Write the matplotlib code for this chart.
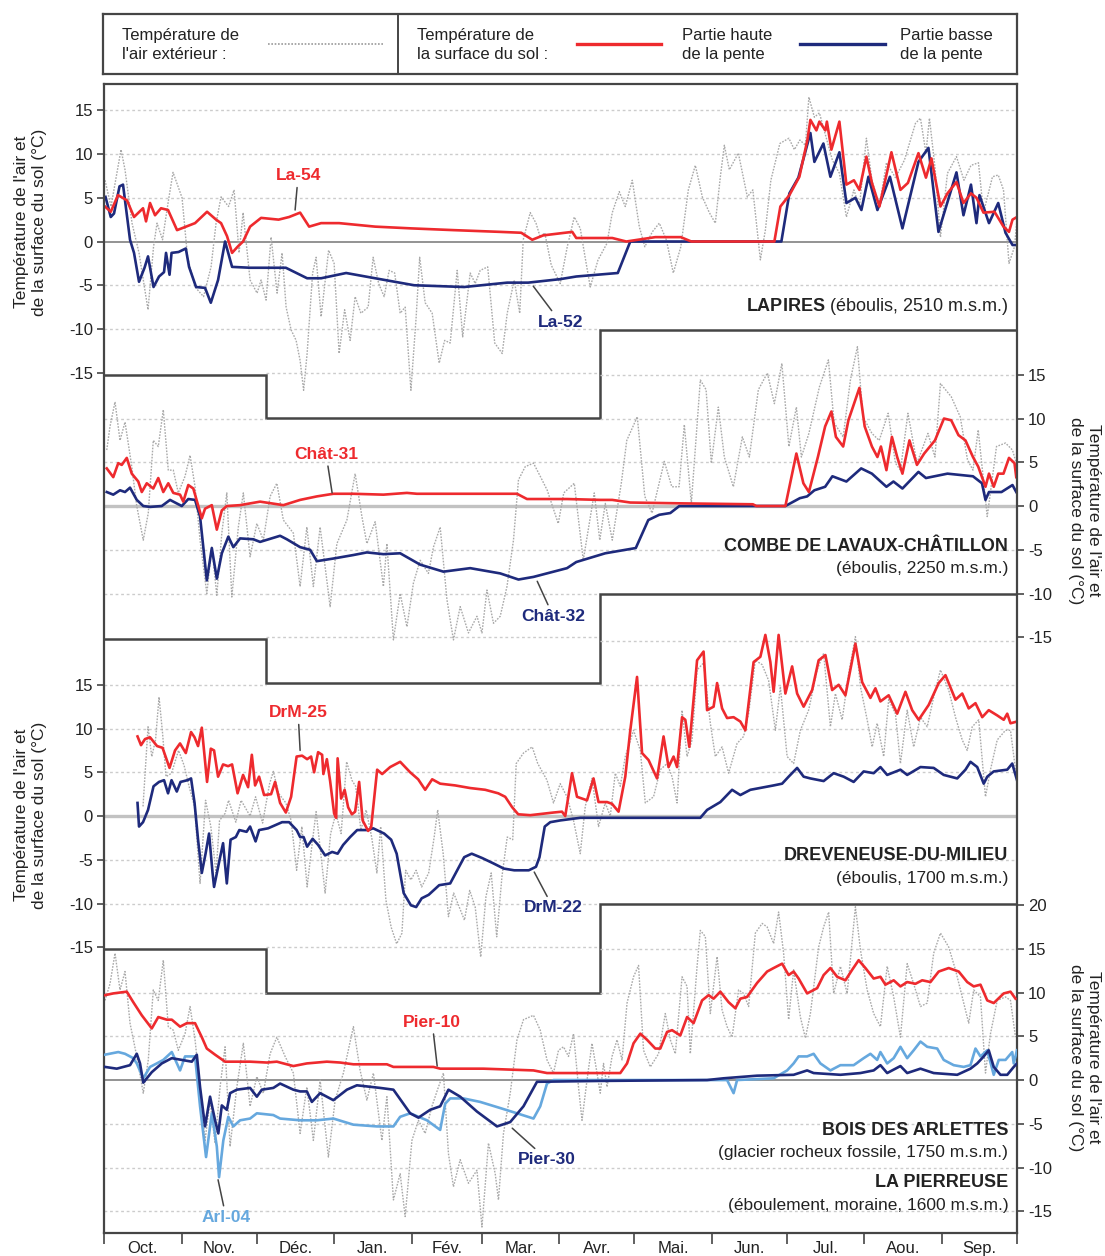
import numpy as np
import matplotlib
matplotlib.use("Agg")
import matplotlib.pyplot as plt
from matplotlib.transforms import blended_transform_factory

plt.rcParams['font.family'] = ['Liberation Sans', 'DejaVu Sans']
plt.rcParams['mathtext.fontset'] = 'custom'
plt.rcParams['mathtext.bf'] = 'Liberation Sans:bold'
plt.rcParams['mathtext.rm'] = 'Liberation Sans'
plt.rcParams['axes.unicode_minus'] = False

# x = days since 1 October (hydrological year)
month_starts = [0, 31, 61, 92, 123, 151, 182, 212, 243, 273, 304, 335, 365]
month_labels = ['Oct.', 'Nov.', 'Déc.', 'Jan.', 'Fév.', 'Mar.', 'Avr.',
                'Mai.', 'Jun.', 'Jul.', 'Aou.', 'Sep.']

# ---- LAPIRES ----
lapires_air = [(0.4, 7.0), (2.8, 4.0), (5.6, 8.5), (6.8, 10.5), (8.4, 8.2), (11.2, 2.1), (14, -1.3), (17.6, -7.8),
               (19.8, -0.6), (21.2, 2.1), (23.4, 0.2), (25.6, 4.4), (27.6, 7.9), (31.2, 5.0), (33.4, -1.8),
               (36.4, -5.2), (39.8, -6.3), (42.8, -2.9), (44.8, 2.1), (46.8, 5.1), (49.8, 4.0), (52, 5.9),
               (54, -1.3), (55.6, 3.3), (58.4, -4.4), (61.2, -5.9), (62.8, -4.4), (64.8, -6.7), (66.8, 0.5),
               (69.2, -5.9), (71.2, -1.3), (72.8, -7.5), (74.8, -10.1), (76.8, -11.3), (78.4, -13.6),
               (79.8, -17.0), (81.2, -12.8), (83.4, -3.6), (84.8, -1.8), (86.8, -8.6), (89.8, -1.0), (92, -2.5),
               (94, -12.8), (96.2, -7.8), (98.4, -11.3), (100.4, -6.3), (102.7, -8.2), (105.6, -7.5),
               (107.6, -1.8), (109.8, -4.8), (112, -6.3), (114, -3.3), (116.2, -3.6), (118.4, -8.2),
               (120.4, -7.5), (122.7, -17.0), (124.8, -8.6), (126.2, -1.8), (128.4, -7.0), (131.2, -8.2),
               (134, -13.9), (136.2, -11.3), (138.4, -11.6), (141.2, -3.3), (143.4, -10.9), (146.4, -3.6),
               (148.4, -4.8), (150.4, -3.3), (153.4, -2.9), (156.2, -11.6), (159.2, -12.8), (161.2, -8.2),
               (164, -4.4), (166.2, -8.2), (167.6, 0.2), (170.4, 3.3), (172.7, 2.1), (174.4, 0.5), (176.2, 1.0),
               (178.8, -2.7), (182.4, -4.8), (185.2, -0.6), (188, 2.8), (190.4, 1.5), (192.4, -1.9),
               (194.4, -5.2), (197.5, -2.1), (201.1, -0.2), (203.2, 3.3), (206, 5.7), (208.4, 4.0), (211.2, 7.0),
               (214, 1.7), (216.2, -0.6), (219.2, 1.1), (222, 2.1), (224.8, 0.2), (227.6, -3.6), (230.6, -0.6),
               (233.6, 5.9), (236.4, 8.7), (239.2, 5.1), (242, 3.3), (244.4, 2.1), (246.4, 7.4), (248, 11.0),
               (250, 8.2), (253.6, 10.1), (257.2, 5.1), (259.4, 5.9), (262.4, -2.1), (264.4, 1.3), (266.6, 7.0),
               (270.2, 11.2), (273.8, 11.8), (276, 10.5), (278.2, 11.6), (280.4, 11.0), (281.8, 16.5),
               (284, 14.2), (286, 14.7), (289, 11.6), (291.2, 9.3), (294, 7.8), (296.8, 2.8), (299.8, 5.9),
               (302, 4.0), (304.8, 11.8), (307, 7.0), (310, 4.0), (312.8, 9.0), (316.4, 7.3), (320, 9.3),
               (324.4, 13.5), (326.4, 14.1), (328.6, 10.1), (330, 14.1), (332.2, 8.5), (334.4, 0.5), (337.2, 7.8),
               (340.8, 9.7), (343.8, 7.0), (346.6, 8.7), (349.6, 9.0), (351.6, 3.3), (355.2, 7.4), (357.5, 7.6),
               (359.6, 5.9), (361.8, -2.5), (364, -0.6), (365, 2.5)]
la54 = [(0.4, 4.0), (2.7, 3.4), (5.6, 5.3), (9.2, 4.7), (12, 2.8), (15.6, 3.8), (16.8, 2.3), (18.4, 4.4),
        (20.4, 3.0), (22.8, 3.8), (25.6, 3.6), (29.2, 1.3), (32.8, 1.7), (36.4, 2.1), (41.2, 3.4), (44.8, 2.5),
        (46.8, 2.1), (49.2, 0.6), (51.2, -1.3), (53.4, -0.6), (55.6, 0), (58.4, 1.7), (62.8, 2.7), (69.8, 2.5),
        (74, 2.8), (78.4, 3.3), (82, 1.7), (86.8, 2.1), (94, 2.1), (108.4, 1.7), (122.8, 1.5), (139.8, 1.3),
        (158.4, 1.1), (166.8, 1.0), (171.2, 0.2), (175.6, 0.7), (187.2, 1.1), (188.8, 0.4), (203.2, 0.4),
        (208.8, 0), (220.4, 0.5), (230.6, 0.5), (234.8, 0), (268, 0), (270.4, 4.0), (274, 5.3), (278, 7.4),
        (281.2, 11.6), (282.4, 13.9), (284.8, 12.7), (286, 13.7), (288.4, 12.7), (289, 13.7), (290.8, 10.5),
        (294, 13.7), (296.8, 6.5), (299.8, 7.0), (302, 5.9), (304.8, 9.7), (307, 6.7), (310, 4.0),
        (314.8, 10.2), (318.4, 5.9), (321.4, 6.7), (325.6, 10.1), (328.6, 7.3), (330.8, 9.5), (334.4, 4.0),
        (337.2, 5.5), (340.8, 6.8), (343.6, 4.4), (346.6, 5.5), (348.8, 5.0), (351.6, 3.3), (356, 3.4),
        (359.6, 1.7), (361.8, 1.1), (363.2, 2.5), (365, 2.8)]
la52 = [(0.6, 5.1), (2.7, 2.8), (4, 3.2), (6.2, 6.3), (7.6, 6.5), (10.4, 0.2), (12, -1.3), (14, -4.6),
        (16.2, -3.0), (17.6, -1.7), (19.8, -5.2), (22, -4.0), (24, -3.5), (24.8, -1.3), (26.2, -3.8), (27, -1.3),
        (29.8, -1.2), (32.7, -0.8), (34, -2.9), (36.8, -5.2), (40.4, -5.3), (42.7, -7.0), (45.6, -4.4),
        (48.4, 0), (51.2, -2.9), (58.4, -3.0), (72.7, -3.0), (81.2, -4.2), (86.8, -4.2), (96.8, -3.6),
        (108.4, -4.2), (124, -5.0), (144, -5.2), (161.2, -4.7), (169.6, -4.7), (182.4, -4.3), (188.8, -4.0),
        (205.4, -3.6), (210.4, 0), (270.8, 0), (274, 5.5), (277.6, 7.3), (282.4, 12.4), (284, 9.1),
        (287.6, 11.2), (290.4, 7.4), (294, 10.2), (296.8, 4.4), (300.4, 5.0), (302.8, 3.6), (305.6, 7.4),
        (309.2, 3.6), (314.2, 7.4), (319.2, 1.5), (325.6, 9.1), (329.6, 10.7), (333.6, 1.1), (340.8, 7.9),
        (343.6, 3.0), (346.6, 6.5), (348.8, 2.1), (350, 5.3), (353.8, 2.1), (357.5, 4.4), (360.4, 1.0),
        (363.2, -0.4), (365, -0.4)]

# ---- COMBE DE LAVAUX-CHATILLON ----
combe_air = [(1.1, 6.4), (2.4, 9.1), (4.4, 11.9), (6.4, 7.5), (8.4, 9.6), (11.1, 4.5), (13.1, 0), (15.7, -3.9),
             (17.7, -0.8), (19.7, 7.5), (21.7, 6.8), (23.7, 11.0), (25.7, 4.1), (27.7, 4.1), (29.7, 1.5),
             (32.4, 3.4), (34.4, 5.8), (36.4, 2.2), (38.4, -3.9), (41.1, -10.0), (43.1, -4.7), (45.1, -10.2),
             (47.1, -3.1), (49.1, 1.5), (51.1, -10.4), (53.7, -2.4), (55.7, 1.5), (58.4, -5.8), (61.1, -2.0),
             (63.7, -3.9), (66.4, 1.1), (69.1, 2.6), (71.7, -1.6), (75.7, -3.1), (78.4, -9.2), (81.1, -2.4),
             (83.7, -9.2), (86.4, -2.4), (90.4, -11.5), (93.1, -4.3), (97.1, -1.6), (100.4, 3.7), (103.1, -1.2),
             (105.1, -4.3), (108.4, -1.8), (111.7, -9.2), (113.1, -4.3), (115.7, -15.3), (118.4, -10.0),
             (121.1, -13.8), (123.7, -8.8), (126.4, -6.2), (129.7, -7.7), (131.7, -4.7), (134.4, -2.4),
             (137.1, -10.7), (139.7, -15.3), (142.4, -11.5), (145.7, -14.5), (149.1, -12.6), (151.1, -14.5),
             (153.1, -9.6), (155.7, -13.4), (158.4, -12.6), (161.1, -9.2), (163.7, -3.9), (165.7, 3.0),
             (168.4, 4.5), (171.7, 4.9), (174.4, 3.4), (177.2, 1.8), (181.6, -2.0), (183.8, 1.5), (188, 2.6),
             (191.6, -6.2), (196, 1.5), (198.2, -3.9), (200.4, 0.3), (203.2, -3.9), (206.8, 2.6), (209, 7.5),
             (213.2, 10.2), (216.2, 1.1), (219.1, -0.8), (224, 5.1), (227, 2.2), (229.9, 2.2), (232, 9.3),
             (234.8, 0.3), (238.4, 14.4), (240.7, 13.3), (242.8, 4.9), (245.6, 11.3), (248, 5.6), (251.6, 2.2),
             (255.2, 7.9), (258, 5.6), (261.6, 13.3), (265.2, 15.2), (268, 11.7), (271, 16.3), (273.8, 6.8),
             (276.8, 11.3), (278.8, 5.6), (281.8, 8.3), (286, 13.6), (289.6, 16.7), (291.9, 9.5), (295.5, 7.9),
             (298.4, 14.4), (301.2, 18.2), (303.4, 10.2), (307, 8.3), (309.9, 7.5), (313.5, 10.6), (316.4, 4.9),
             (318.4, 4.1), (321.4, 10.6), (325, 4.9), (329.4, 8.3), (332.2, 5.6), (334.4, 14.0), (338.7, 12.5),
             (342.3, 10.2), (345.2, 5.3), (347.4, 4.1), (349.5, 8.7), (353.1, -1.2), (356.8, 6.8), (360.4, 7.2),
             (363.2, 6.4), (364.7, 4.9)]
chat31 = [(1.1, 4.3), (3.7, 3.3), (5.7, 4.9), (7.1, 4.7), (9.1, 5.5), (11.1, 3.7), (13.7, 2.8), (15.1, 1.6),
          (17.1, 2.6), (19.7, 2.0), (21.7, 3.2), (23.7, 1.6), (25.7, 2.6), (27.7, 1.5), (30.4, 1.3), (31.7, 0.5),
          (33.7, 2.4), (35.7, 2.0), (37.7, 0), (39.1, -1.4), (40.4, -0.3), (43.1, 0.1), (45.1, -2.7),
          (47.1, -0.5), (49.1, 0), (54.4, 0.1), (62.4, 0.5), (71.7, 0.1), (78.4, 0.7), (85.1, 1.1), (91.7, 1.4),
          (99.7, 1.4), (111.7, 1.3), (121.1, 1.5), (125.1, 1.4), (165.1, 1.4), (169.1, 0.8), (185.1, 0.8),
          (198.4, 0.7), (203.2, 0.7), (210.4, 0.4), (232, 0.3), (259.4, 0.2), (260.8, 0), (272.4, 0),
          (274.6, 3.0), (276.8, 6.0), (279.6, 2.6), (281.8, 1.6), (285.4, 5.6), (288.3, 9.1), (290.8, 10.8),
          (292.6, 7.9), (295.5, 6.8), (297.6, 9.8), (302, 13.5), (304.1, 9.1), (307, 6.8), (309.2, 5.6),
          (310.6, 6.8), (312.8, 4.1), (315, 7.9), (317.1, 5.6), (319.2, 3.7), (322, 7.5), (325, 4.7),
          (327.9, 6.0), (332.2, 7.5), (335.8, 10.0), (338.7, 9.8), (341.6, 8.1), (344.4, 7.5), (347.4, 5.6),
          (349.5, 4.5), (352.4, 2.2), (353.8, 3.7), (355.7, 2.2), (357.5, 3.7), (359.6, 3.7), (361.8, 5.5),
          (364, 4.9), (364.7, 3.3)]
chat32 = [(1.1, 1.6), (3.7, 1.3), (6.4, 1.8), (8.4, 1.6), (10.4, 2.1), (13.1, 0.7), (15.7, 0), (18.4, -0.1),
          (23.1, 0), (26.4, 0.7), (28.4, 0.4), (31.1, 0), (33.7, 0.8), (36.4, 0.7), (38.4, -1.2), (41.1, -8.5),
          (43.1, -4.8), (45.1, -8.3), (47.1, -5.4), (49.7, -3.5), (51.7, -4.7), (54.4, -3.7), (59.7, -3.8),
          (62.4, -4.1), (70.4, -3.4), (73.1, -3.8), (78.4, -4.7), (82.4, -5.0), (85.1, -6.3), (91.7, -6.0),
          (99.7, -5.6), (105.1, -5.3), (111.7, -5.5), (118.4, -5.4), (126.4, -6.7), (135.7, -7.5),
          (146.4, -7.1), (158.4, -7.7), (165.7, -8.4), (171.7, -8.1), (185.1, -7.1), (188.8, -6.4),
          (200.4, -5.4), (212.6, -4.8), (217.6, -1.6), (222, -1.0), (226.4, -0.8), (230, 0), (272.4, 0),
          (278.2, 0.9), (281.1, 1.1), (284, 1.8), (288.3, 2.2), (291.2, 3.4), (296.8, 2.8), (302.7, 4.3),
          (307, 3.7), (312.8, 2.2), (315.6, 2.8), (319.2, 2.0), (325.6, 3.9), (328.6, 3.2), (337.2, 3.7),
          (347.4, 3.4), (351, 2.6), (352.4, 0.7), (353.8, 1.6), (358.8, 1.6), (363.2, 2.4), (364.7, 1.6)]

# ---- DREVENEUSE-DU-MILIEU ----
drev_air = [(15.6, 1.1), (17.6, 10.2), (19.1, 6.8), (20.6, 8.7), (22, 13.6), (23.4, 9.5), (24.8, 4.5), (27, 4.9),
            (29.8, 7.5), (32, 5.8), (34, 3.4), (36.2, 1.1), (38.4, -7.7), (40.6, 1.8), (42.7, -1.2), (44.8, -6.5),
            (46.2, -0.5), (48.4, 0.3), (49.8, 1.8), (52.7, -0.7), (54.8, 1.8), (56.2, 1.1), (58.4, 0),
            (60.6, 2.2), (63.4, -0.8), (66.2, 3.7), (67.7, 5.1), (69.8, 2.6), (72.7, 1.5), (74.8, -0.5),
            (77, -6.2), (79.1, -1.2), (81.2, -8.1), (83.4, -2.7), (84.8, 0.5), (86.2, -3.1), (88.4, -8.8),
            (90.6, -2.0), (92.7, 0.3), (94.8, -2.0), (97, 6.2), (99.1, 4.1), (100.6, 3.4), (102.7, -1.6),
            (104.8, 0.7), (107, -2.4), (109.1, -6.5), (110.6, -1.2), (112.7, -9.6), (114.8, -12.7),
            (117, -14.6), (119.1, -13.4), (120.6, -6.2), (122.7, -7.3), (124.8, -6.2), (127, -8.1),
            (129.8, -6.5), (132, -2.4), (133.4, 0.7), (135.6, -4.3), (137.7, -11.5), (139.8, -8.8),
            (142, -10.4), (144.1, -11.9), (146.2, -8.5), (148.4, -10.4), (150.6, -16.1), (152.7, -9.2),
            (154.8, -6.5), (157, -13.8), (159.1, -6.9), (161.2, -2.4), (163.4, -2.7), (164.8, 6.0),
            (167.7, 7.2), (171.2, 7.9), (173.4, 6.0), (177.1, 4.1), (179.7, 1.5), (182.4, 3.7), (185.1, 2.2),
            (187.7, -0.5), (190.4, -4.3), (192.4, 1.1), (195.1, 4.3), (197.7, -1.2), (200.4, 1.5), (202.4, 0),
            (204.4, 4.9), (206.4, 3.4), (208.4, 6.8), (211.7, 9.8), (214.4, 7.5), (216.4, 1.5), (219.7, 2.2),
            (222.4, 5.3), (225.1, 6.0), (227.1, 4.5), (229.1, 1.5), (231.1, 12.1), (233.1, 6.8), (235.1, 8.7),
            (237.1, 16.7), (239.7, 17.5), (242.4, 10.6), (244.4, 6.8), (247.1, 7.9), (249.7, 4.9),
            (253.1, 8.3), (255.7, 9.1), (257.7, 11.7), (260.4, 17.8), (263.1, 17.3), (265.7, 15.5),
            (268.4, 9.8), (270.4, 14.8), (273.1, 6.8), (275.7, 6.0), (278.4, 9.8), (281.7, 12.1),
            (285.1, 16.7), (287.7, 18.6), (290.4, 10.2), (292.4, 14.0), (295.1, 11.0), (297.7, 16.3),
            (300.4, 20.5), (302.4, 14.8), (305.1, 11.0), (307.1, 7.9), (309.1, 10.6), (311.7, 6.8),
            (313.7, 13.3), (316.4, 11.7), (318.4, 6.0), (321.1, 12.1), (323.7, 7.9), (326.4, 11.3),
            (329.1, 10.2), (331.7, 13.6), (334.4, 16.7), (337.7, 14.4), (340.4, 11.3), (343.1, 8.7),
            (345.1, 7.5), (347.1, 10.2), (349.7, 11.0), (352.4, 2.2), (354.4, 5.3), (357.1, 8.7), (360.4, 9.8),
            (362.4, 9.8), (364.4, 5.3)]
drm25 = [(13.4, 9.1), (14.8, 8.1), (16.4, 8.8), (18.4, 9.0), (21.2, 8.0), (23.4, 7.8), (26.2, 5.5), (28.4, 7.5),
         (30.4, 8.3), (32.7, 7.2), (34.8, 9.6), (36.2, 9.0), (37.6, 8.0), (39.1, 10.1), (40.6, 5.6), (41.2, 3.9),
         (42.7, 7.7), (44, 7.5), (45.6, 4.5), (47.6, 5.9), (49.6, 5.7), (51.2, 5.9), (53.4, 2.6), (55.6, 4.7),
         (57.6, 3.3), (59.1, 7.0), (60.4, 3.5), (62, 4.5), (64, 2.4), (66.8, 2.5), (68.4, 3.9), (70.4, 1.5),
         (72.7, 0.4), (74.8, 2.2), (77, 6.8), (79.2, 6.9), (81.2, 6.5), (82.8, 6.8), (84, 5.0), (85.6, 7.3),
         (87.2, 7.0), (87.7, 4.8), (89.1, 6.5), (90.4, 4.0), (92, 0.3), (92.8, -0.2), (93.4, 6.6), (94.8, 2.0),
         (96.2, 3.0), (97.6, 1.0), (99.1, 0.2), (100.4, 0.5), (102, 3.9), (103.4, -0.5), (105.6, -1.7),
         (106.8, -1.3), (109.2, 5.3), (111.2, 4.8), (114.4, 5.6), (118.4, 6.2), (122.4, 5.0), (125.6, 4.2),
         (128.4, 3.0), (131.2, 4.2), (134.4, 3.7), (140.4, 3.5), (146.4, 3.2), (152.4, 3.0), (157.6, 2.6),
         (160.4, 2.2), (163.2, 1.0), (165.6, 0.2), (170.4, 0.1), (176.4, 0.3), (179.6, 0.4), (183.1, 0.5),
         (184.4, 0), (187.1, 4.9), (189.1, 2.2), (193.1, 1.8), (195.7, 4.3), (197.7, 1.6), (201.1, 1.6),
         (203.1, 1.4), (205.7, 0.5), (208.4, 4.5), (210.4, 9.8), (213.1, 15.9), (215.1, 7.2), (217.7, 6.4),
         (221.1, 4.3), (223.7, 9.1), (225.7, 5.6), (227.7, 6.8), (229.1, 5.6), (231.1, 11.3), (232.4, 11.0),
         (234, 7.9), (237.1, 17.8), (239.7, 18.8), (241.1, 12.1), (243.7, 12.5), (245.1, 15.2), (247.1, 12.3),
         (249.1, 11.2), (251.7, 11.3), (254.4, 10.8), (256.4, 9.8), (259.7, 17.6), (262.4, 18.2),
         (264.4, 20.7), (266.4, 17.6), (267.7, 14.2), (269.7, 20.7), (272.4, 14.0), (275.1, 17.1),
         (277.1, 14.0), (279.7, 12.5), (283.1, 14.4), (285.7, 17.8), (288.4, 18.4), (291.1, 14.4),
         (293.7, 15.0), (296.4, 13.8), (300.4, 19.7), (303.1, 15.3), (306.4, 13.5), (308.4, 14.6),
         (310.4, 13.1), (313.7, 13.8), (317.1, 11.7), (320.4, 14.2), (323.1, 12.1), (325.7, 11.0),
         (329.7, 12.7), (333.7, 15.2), (336.4, 16.1), (340.4, 13.3), (343.1, 14.0), (345.7, 12.3),
         (348.4, 12.9), (351.1, 11.3), (353.7, 12.1), (357.1, 11.5), (359.7, 11.0), (361.1, 11.7),
         (362.4, 10.6), (365, 10.8)]
drm22 = [(13.4, 1.5), (14, -1.2), (15.6, -0.7), (17.6, 0.7), (19.8, 3.4), (22, 3.9), (24, 4.1), (25.6, 2.6),
         (27, 4.1), (29.1, 2.8), (30.6, 3.9), (33.4, 4.1), (34.8, 4.3), (36.2, 1.5), (37.6, -2.7), (39.1, -6.5),
         (40.6, -4.3), (42, -2.0), (43.4, -6.5), (44, -8.1), (46.2, -5.0), (47.6, -3.1), (49.1, -7.7),
         (50.6, -2.7), (52.7, -2.4), (54.1, -1.6), (57, -1.8), (58.4, -1.2), (60.6, -2.9), (62, -1.6),
         (65.6, -1.4), (71.2, -0.7), (74, -0.7), (77, -1.6), (78.4, -2.4), (79.8, -2.4), (81.2, -3.5),
         (83.4, -2.6), (85.6, -3.3), (88.4, -4.5), (91.2, -4.1), (93.4, -4.3), (95.6, -3.3), (98.4, -2.4),
         (101.2, -1.6), (105.6, -1.6), (107.6, -1.4), (112, -2.0), (114.8, -2.7), (117, -4.3), (119.8, -8.8),
         (122.7, -10.2), (124.8, -10.4), (127, -9.4), (129.8, -9.0), (134, -7.9), (138.4, -7.7), (141.2, -6.2),
         (144, -4.7), (147, -4.3), (151.2, -4.8), (155.6, -5.4), (159.8, -6.0), (164, -6.2), (169.8, -6.2),
         (172.7, -5.8), (174.1, -4.7), (176.2, -1.2), (178.4, -0.7), (182.4, -0.5), (190.4, -0.2),
         (238.4, -0.2), (241.1, 0.7), (246.4, 1.6), (251.1, 3.0), (254.4, 2.4), (258.4, 3.0), (267.7, 3.5),
         (271.1, 3.7), (273.7, 4.5), (277.1, 5.5), (279.7, 4.5), (282.4, 4.3), (287.7, 4.0), (291.7, 4.9),
         (295.7, 4.5), (299.7, 3.9), (303.7, 5.1), (307.7, 4.9), (310.4, 5.6), (313.1, 4.7), (318.4, 5.3),
         (321.1, 4.7), (326.4, 5.6), (331.7, 5.5), (335.7, 4.7), (341.1, 4.3), (344.4, 5.3), (346.4, 6.2),
         (349.1, 5.6), (351.7, 3.7), (353.1, 4.5), (355.7, 5.1), (361.1, 5.3), (363.1, 6.0), (365, 4.1)]

# ---- BOIS DES ARLETTES / LA PIERREUSE ----
pier_air = [(0.4, 9.1), (2.4, 11.0), (4.4, 14.5), (6.4, 10.3), (8.4, 12.4), (10.4, 6.5), (13.1, 2.7), (15.7, -1.5),
            (17.7, 2.3), (19.7, 10.3), (21.7, 9.1), (23.7, 13.7), (25.7, 6.1), (27.7, 5.7), (29.7, 3.4),
            (32.4, 5.3), (34.4, 8.4), (36.4, 4.6), (38.4, -0.8), (40.4, -6.9), (42.4, -2.3), (44.4, -7.2),
            (46.4, -0.8), (48.4, 3.8), (50.4, -7.6), (53.1, -0.8), (55.7, 4.2), (58.4, -3.0), (61.1, 0.4),
            (63.7, -1.5), (66.4, 3.0), (69.1, 4.9), (72.4, 2.7), (75.7, 0.8), (78.4, -6.1), (81.1, -0.8),
            (83.7, -6.9), (86.4, 0), (89.7, -8.8), (92.4, -2.3), (95.7, 0.8), (99.7, 6.1), (102.4, 1.1),
            (105.1, -2.3), (107.7, 0.8), (111.1, -6.9), (113.1, -1.9), (115.7, -13.7), (118.4, -10.7),
            (120.4, -15.6), (123.1, -6.9), (125.7, -4.6), (128.4, -6.1), (131.1, -3.0), (133.7, -0.8),
            (135.7, 0.8), (137.7, -8.4), (139.7, -12.2), (142.4, -9.1), (145.7, -11.8), (149.1, -10.3),
            (151.1, -16.8), (153.7, -7.2), (156.4, -10.7), (157.7, -13.7), (159.7, -6.1), (162.4, -1.5),
            (165.1, 4.6), (167.7, 6.9), (171.7, 7.4), (174.4, 5.7), (177.1, 2.3), (179.7, 0.8), (181.7, 3.4),
            (183.7, 3.8), (185.7, 2.7), (187.7, 5.3), (189.7, -0.8), (191.1, -4.6), (193.1, 0), (195.1, 4.2),
            (197.1, 0.8), (198.4, -1.5), (199.7, 1.9), (201.1, -0.8), (203.1, 2.7), (205.1, 4.6), (207.1, 2.3),
            (209.1, 8.8), (211.7, 11.8), (213.7, 13.1), (215.7, 3.4), (218.4, 1.5), (221.7, 3.0), (224.4, 7.6),
            (226.4, 4.6), (228.4, 3.0), (231.1, 11.8), (233.1, 10.7), (234.4, 3.0), (237.1, 13.0),
            (238.4, 17.1), (240.4, 16.4), (242.4, 7.6), (245.1, 14.1), (247.1, 8.0), (249.1, 6.1), (251.1, 4.9),
            (253.7, 10.3), (255.7, 9.9), (257.7, 8.4), (260.4, 16.8), (263.1, 17.9), (265.1, 17.5),
            (267.7, 15.6), (269.7, 19.2), (271.7, 14.5), (273.7, 6.9), (275.7, 12.6), (278.4, 7.2),
            (280.4, 4.8), (282.4, 7.6), (285.7, 15.2), (287.7, 17.5), (289.7, 19.2), (291.7, 9.9),
            (294.4, 13.0), (297.1, 9.9), (300.4, 19.8), (302.4, 14.9), (305.1, 10.3), (307.7, 7.6),
            (310.4, 6.1), (313.1, 13.0), (315.7, 9.5), (318.4, 4.9), (321.1, 13.3), (323.7, 11.0),
            (326.4, 8.4), (329.1, 8.8), (331.7, 14.5), (334.4, 16.8), (337.7, 15.2), (340.4, 12.6),
            (343.1, 9.5), (345.7, 6.5), (347.7, 10.3), (350.4, 9.5), (352.4, 0.8), (354.4, 5.3), (357.1, 9.1),
            (360.4, 9.5), (362.4, 9.1), (364.4, 4.9)]
pier10 = [(0.4, 9.7), (3.7, 9.9), (9.1, 10.1), (11.7, 8.9), (15.1, 7.4), (19.1, 5.9), (21.7, 7.2), (25.1, 6.9),
          (27.1, 6.9), (30.4, 6.1), (33.1, 6.5), (36.4, 6.5), (39.1, 4.9), (41.1, 3.6), (44.4, 2.9), (48.4, 2.1),
          (58.4, 2.1), (65.1, 2.0), (69.1, 2.1), (75.7, 1.6), (81.1, 1.9), (89.1, 2.1), (94.4, 2.0), (99.7, 1.8),
          (113.1, 1.8), (115.7, 1.5), (131.7, 1.5), (134.4, 1.3), (151.7, 1.3), (171.7, 1.1), (177.1, 0.8),
          (198.4, 0.8), (206.4, 0.8), (209.1, 1.9), (211.7, 4.2), (214.4, 5.3), (217.1, 4.6), (220.4, 3.6),
          (222.4, 3.6), (225.1, 5.5), (227.1, 5.7), (230.4, 5.1), (233.1, 7.2), (235.7, 6.5), (239.1, 9.1),
          (241.7, 9.7), (243.7, 9.3), (246.4, 10.1), (249.7, 8.9), (252.4, 8.2), (254.4, 9.3), (257.1, 9.5),
          (261.1, 11.1), (265.1, 12.4), (267.7, 12.8), (271.1, 13.3), (273.7, 12.0), (275.7, 12.4),
          (277.7, 11.6), (281.1, 9.9), (285.1, 10.5), (287.7, 12.0), (290.4, 12.8), (293.1, 11.8),
          (296.4, 11.4), (299.1, 12.6), (301.7, 13.7), (304.4, 12.8), (307.7, 11.6), (310.4, 11.8),
          (312.4, 10.9), (315.7, 11.4), (318.4, 10.7), (321.1, 11.2), (324.4, 11.0), (327.1, 11.4),
          (330.4, 11.2), (333.7, 12.4), (337.7, 12.8), (341.7, 12.4), (345.1, 11.2), (347.7, 10.7),
          (350.4, 10.9), (353.1, 9.1), (355.7, 8.8), (359.7, 9.9), (362.4, 10.1), (364.4, 9.3)]
pier30 = [(0.4, 1.5), (5.1, 1.3), (10.4, 1.7), (13.1, 3.0), (14.4, 1.9), (15.7, -0.3), (19.1, 0.9), (23.1, 1.9),
          (27.1, 2.5), (31.1, 2.3), (35.1, 2.1), (37.1, 2.9), (38.4, -0.8), (40.4, -5.3), (42.4, -1.9),
          (44.4, -4.6), (45.7, -6.1), (47.1, -2.9), (49.1, -3.4), (50.4, -1.5), (53.1, -1.1), (58.4, -0.9),
          (61.1, -1.9), (63.1, -1.1), (67.7, -0.9), (70.4, -0.4), (75.7, -1.1), (78.4, -1.3), (81.1, -1.3),
          (83.1, -2.5), (86.4, -1.5), (91.7, -2.3), (97.1, -1.1), (101.1, -0.6), (110.4, -0.9), (115.7, -1.1),
          (122.4, -3.8), (125.7, -4.3), (130.4, -3.4), (134.4, -3.0), (137.7, -1.1), (142.4, -1.9),
          (149.1, -3.6), (157.1, -5.3), (162.4, -4.8), (167.7, -3.0), (173.1, -0.2), (198.4, -0.1),
          (241.1, 0), (247.7, 0.2), (261.1, 0.5), (275.7, 0.6), (281.1, 1.1), (283.7, 0.8), (294.4, 0.6),
          (302.4, 0.8), (307.7, 1.1), (310.4, 1.7), (313.1, 0.8), (318.4, 1.6), (321.1, 0.8), (326.4, 1.3),
          (331.7, 0.8), (341.1, 0.6), (346.4, 1.3), (349.1, 1.9), (351.7, 2.7), (353.7, 3.4), (355.7, 1.5),
          (358.4, 0.6), (361.1, 0.6), (363.7, 1.5), (365, 1.9)]
arl04 = [(0.4, 2.9), (5.7, 3.2), (8.4, 3.0), (11.7, 2.5), (13.1, 1.9), (15.7, 0.2), (18.4, 1.5), (21.1, 1.9),
         (23.7, 2.3), (27.1, 3.2), (30.4, 1.1), (32.4, 2.7), (36.4, 2.7), (38.4, -3.0), (40.8, -8.8),
         (43.1, -3.8), (45.1, -7.6), (46, -11.1), (47.7, -6.9), (49.7, -4.2), (51.7, -5.3), (54.4, -4.6),
         (58.4, -4.4), (61.1, -3.8), (67.7, -4.0), (70.4, -4.4), (78.4, -4.6), (85.1, -4.6), (91.7, -4.4),
         (99.7, -5.1), (109.1, -5.3), (115.7, -5.3), (118.4, -4.2), (122.4, -3.8), (129.1, -4.6),
         (134.4, -5.7), (136.4, -2.7), (138.4, -2.1), (143.7, -2.1), (150.4, -2.5), (158.4, -3.2),
         (165.1, -3.8), (171.7, -4.4), (174.4, -3.0), (177.1, -0.4), (179.7, 0), (249.1, 0), (251.7, -1.5),
         (253.1, 0), (267.7, 0.2), (273.1, 1.1), (275.7, 1.9), (277.7, 2.7), (281.1, 2.7), (283.7, 3.0),
         (286.4, 1.9), (290.4, 1.1), (294.4, 1.7), (299.7, 1.7), (303.7, 2.5), (306.4, 3.0), (309.1, 2.3),
         (310.4, 3.2), (313.1, 1.9), (315.7, 2.5), (318.4, 3.8), (321.1, 2.5), (323.7, 3.4), (326.4, 4.4),
         (329.1, 3.8), (333.1, 3.6), (335.7, 2.3), (339.7, 1.7), (343.7, 1.5), (346.4, 1.7), (348.4, 3.6),
         (350.4, 2.7), (353.1, 3.4), (355.7, 0.6), (357.7, 2.3), (360.4, 2.3), (363.1, 3.2), (363.7, 1.9),
         (365, 3.4)]

# staircase separating each panel from the one below (in the upper panel's units)
step_days = [0, 64.8, 198.4, 365]
step_levels = [-15.2, -20.2, -10.1]

RED = '#ee2a2e'
NAVY = '#1e2a7c'
LIGHT = '#66a8de'
AIR = '#a9a9a9'
FRAME = '#454545'
TXT = '#222222'

fig = plt.figure(figsize=(11.05, 12.56), dpi=100)
rect = [0.09412, 0.01831, 0.82624, 0.91481]
span = 131.31
tops = [18.0, 48.23, 83.66, 113.83]
axes = [fig.add_axes(rect, facecolor='none', label='p%d' % i) for i in range(4)]

tick_sets = [range(-15, 16, 5), range(-15, 16, 5), range(-15, 16, 5), range(-15, 21, 5)]
grid_sets = [range(-15, 16, 5), range(-15, 16, 5), range(-15, 21, 5), range(-15, 21, 5)]
zero_styles = [('#8a8a8a', 1.3), ('#c2c2c2', 2.4), ('#c2c2c2', 2.4), ('#8a8a8a', 1.3)]

for k, ax in enumerate(axes):
    ax.set_xlim(0, 365)
    ax.set_ylim(tops[k] - span, tops[k])
    for s in ax.spines.values():
        s.set_visible(False)
    ax.set_xticks([])
    ax.set_yticks(list(tick_sets[k]))
    side = 'left' if k % 2 == 0 else 'right'
    ax.tick_params(axis='y', direction='out', length=5, width=1.2, color=FRAME,
                   labelsize=12, labelcolor=TXT, pad=3,
                   left=(side == 'left'), labelleft=(side == 'left'),
                   right=(side == 'right'), labelright=(side == 'right'))

    # grid restricted to the panel's own stepped region
    if k < 3:
        lower = step_levels
    else:
        lower = [tops[3] - span] * 3
    if k > 0:
        upper = [v + tops[k] - tops[k - 1] for v in step_levels]
    else:
        upper = [tops[0]] * 3
    for g in grid_sets[k]:
        if g == 0:
            continue
        for i in range(3):
            if lower[i] + 1 < g < upper[i] - 1:
                ax.hlines(g, step_days[i], step_days[i + 1], colors='#cccccc',
                          linestyles=(0, (2, 2)), lw=1.0, zorder=1)
    zc, zw = zero_styles[k]
    ax.axhline(0, color=zc, lw=zw, zorder=1.5)

    if k < 3:
        sx = [step_days[0], step_days[1], step_days[1], step_days[2], step_days[2], step_days[3]]
        sy = [step_levels[0], step_levels[0], step_levels[1], step_levels[1], step_levels[2], step_levels[2]]
        ax.plot(sx, sy, color=FRAME, lw=1.8, zorder=6, solid_joinstyle='miter')


def draw(ax, series, color, lw=1.9, ls='-', z=3):
    arr = np.array(series)
    ax.plot(arr[:, 0], arr[:, 1], color=color, lw=lw, ls=ls, zorder=z)


air_style = dict(color=AIR, lw=1.0, ls=(0, (1.2, 1.0)), z=2)
ax1, ax2, ax3, ax4 = axes
draw(ax1, lapires_air, **air_style)
draw(ax1, la52, NAVY)
draw(ax1, la54, RED, z=4)
draw(ax2, combe_air, **air_style)
draw(ax2, chat32, NAVY)
draw(ax2, chat31, RED, z=4)
draw(ax3, drev_air, **air_style)
draw(ax3, drm22, NAVY)
draw(ax3, drm25, RED, z=4)
draw(ax4, pier_air, **air_style)
draw(ax4, arl04, LIGHT, z=3)
draw(ax4, pier30, NAVY, z=3.5)
draw(ax4, pier10, RED, z=4)

# frame and month axis on the top-most axes
for s in ax4.spines.values():
    s.set_visible(True)
    s.set_color(FRAME)
    s.set_linewidth(1.6)
ax4.set_xticks(month_starts)
ax4.set_xticklabels([])
mids = [(a + b) / 2 for a, b in zip(month_starts[:-1], month_starts[1:])]
ax4.set_xticks(mids, minor=True)
ax4.set_xticklabels(month_labels, minor=True, fontsize=12, color=TXT)
ax4.tick_params(axis='x', which='major', direction='out', length=8, width=1.2, color=FRAME)
ax4.tick_params(axis='x', which='minor', length=0, pad=6)

# y-axis titles
ylab = "Température de l'air et\nde la surface du sol (°C)"
for ax, xpos, ypos, rot in [(ax1, -0.080, 2.2, 90), (ax3, -0.080, 0.1, 90),
                            (ax2, 1.0735, -0.5, 270), (ax4, 1.0735, 2.6, 270)]:
    tr = blended_transform_factory(ax.transAxes, ax.transData)
    ax.text(xpos, ypos, ylab, transform=tr, rotation=rot, ha='center', va='center',
            fontsize=12.5, color=TXT, linespacing=1.25, clip_on=False)

# site names
xr = 361.5
ax1.text(xr, -7.4, r'$\mathbf{LAPIRES}$ (éboulis, 2510 m.s.m.)', ha='right', va='center',
         fontsize=13, color=TXT)
ax2.text(xr, -4.6, 'COMBE DE LAVAUX-CHÂTILLON', ha='right', va='center', fontsize=13,
         fontweight='bold', color=TXT)
ax2.text(xr, -7.1, '(éboulis, 2250 m.s.m.)', ha='right', va='center', fontsize=12.5, color=TXT)
ax3.text(xr, -4.5, 'DREVENEUSE-DU-MILIEU', ha='right', va='center', fontsize=13,
         fontweight='bold', color=TXT)
ax3.text(xr, -7.1, '(éboulis, 1700 m.s.m.)', ha='right', va='center', fontsize=12.5, color=TXT)
ax4.text(xr, -5.8, 'BOIS DES ARLETTES', ha='right', va='center', fontsize=13,
         fontweight='bold', color=TXT)
ax4.text(xr, -8.3, '(glacier rocheux fossile, 1750 m.s.m.)', ha='right', va='center',
         fontsize=12.5, color=TXT)
ax4.text(xr, -11.7, 'LA PIERREUSE', ha='right', va='center', fontsize=13,
         fontweight='bold', color=TXT)
ax4.text(xr, -14.3, '(éboulement, moraine, 1600 m.s.m.)', ha='right', va='center',
         fontsize=12.5, color=TXT)


def tag(ax, text, color, xy, xytext):
    ax.annotate(text, xy=xy, xytext=xytext, color=color, fontsize=12.5, fontweight='bold',
                ha='center', va='center', zorder=8,
                arrowprops=dict(arrowstyle='-', color='#444444', lw=1.1, shrinkA=1, shrinkB=0))


tag(ax1, 'La-54', RED, (76.4, 3.6), (77.6, 7.5))
tag(ax1, 'La-52', NAVY, (171.6, -5.1), (182.4, -9.2))
tag(ax2, 'Chât-31', RED, (91.2, 1.5), (88.8, 5.9))
tag(ax2, 'Chât-32', NAVY, (173.2, -8.6), (179.6, -12.6))
tag(ax3, 'DrM-25', RED, (78.4, 7.5), (77.6, 11.8))
tag(ax3, 'DrM-22', NAVY, (172.0, -6.4), (179.6, -10.5))
tag(ax4, 'Pier-10', RED, (133.2, 1.6), (131.2, 6.6))
tag(ax4, 'Pier-30', NAVY, (163.2, -5.5), (177.2, -9.1))
tag(ax4, 'Arl-04', LIGHT, (45.6, -11.4), (48.8, -15.7))

# legend box at the top
lg = fig.add_axes([103 / 1105, 1 - 74 / 1256, 914 / 1105, 60 / 1256])
lg.set_xlim(0, 1)
lg.set_ylim(0, 1)
lg.set_xticks([])
lg.set_yticks([])
for s in lg.spines.values():
    s.set_color(FRAME)
    s.set_linewidth(1.6)
lg.axvline(0.323, color=FRAME, lw=1.4)
lg.text(0.021, 0.48, "Température de\nl'air extérieur :", va='center', ha='left',
        fontsize=12, color=TXT, linespacing=1.3)
lg.plot([0.181, 0.306], [0.5, 0.5], color='#9a9a9a', lw=1.2, ls=(0, (1.0, 1.0)))
lg.text(0.344, 0.48, "Température de\nla surface du sol :", va='center', ha='left',
        fontsize=12, color=TXT, linespacing=1.3)
lg.plot([0.519, 0.611], [0.5, 0.5], color=RED, lw=2.4)
lg.text(0.633, 0.48, "Partie haute\nde la pente", va='center', ha='left',
        fontsize=12, color=TXT, linespacing=1.3)
lg.plot([0.763, 0.856], [0.5, 0.5], color=NAVY, lw=2.4)
lg.text(0.872, 0.48, "Partie basse\nde la pente", va='center', ha='left',
        fontsize=12, color=TXT, linespacing=1.3)

fig.savefig('out.png', dpi=100)
